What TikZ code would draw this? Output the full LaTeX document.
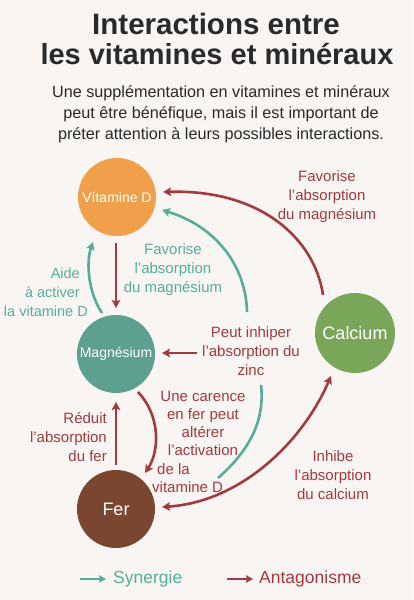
\documentclass[tikz,border=0pt]{standalone}
\usepackage{fontspec}
\setmainfont{Liberation Sans}
\usetikzlibrary{arrows.meta}
\definecolor{bg}{HTML}{F8F5F2}
\definecolor{ared}{HTML}{A23A3F}
\definecolor{ateal}{HTML}{56AE9A}
\definecolor{cvd}{HTML}{F0A04A}
\definecolor{cmg}{HTML}{5DA08F}
\definecolor{cca}{HTML}{7AA659}
\definecolor{cfe}{HTML}{7B4630}
\definecolor{ttl}{HTML}{2A2A2A}
\tikzset{
  circ/.style={circle, minimum size=78pt, inner sep=0pt, text=white},
  lbl/.style={font=\fontsize{15}{19}\selectfont, align=center, inner sep=0pt},
  ant/.style={draw=ared, line width=2.6pt, -{Stealth[length=8pt,width=8.5pt,inset=1.5pt]}},
  syn/.style={draw=ateal, line width=2.6pt, -{Stealth[length=8pt,width=8.5pt,inset=1.5pt]}},
}
\begin{document}
\begin{tikzpicture}[x=1pt,y=-1pt]
\fill[bg] (0,0) rectangle (413,600);
\useasboundingbox (0,0) rectangle (413,600);

% title
\node[anchor=base, text=ttl, font=\fontsize{29.5}{30}\selectfont\bfseries] (title1) at (216,34) {Interactions entre};
\node[anchor=base, text=ttl, font=\fontsize{29}{30}\selectfont\bfseries] (title2) at (217,64) {les vitamines et minéraux};
\node[anchor=north, inner sep=0pt, align=center, text=ttl, font=\fontsize{16.2}{21}\selectfont] (sub) at (221,85)
  {Une supplémentation en vitamines et minéraux\\peut être bénéfique, mais il est important de\\préter attention à leurs possibles interactions.};

% circles
\node[circ, fill=cvd, font=\fontsize{14}{14}\selectfont] (vd) at (117,197) {Vítamine D};
\node[circ, fill=cmg, font=\fontsize{14}{14}\selectfont] (mg) at (116,354) {Magnésium};
\node[circ, fill=cca, minimum size=80pt, font=\fontsize{18}{18}\selectfont] (ca) at (355,333) {Calcium};
\node[circ, fill=cfe, font=\fontsize{18}{18}\selectfont] (fe) at (116,509) {Fer};

% connector end points
\coordinate (p1a) at (323,295);
\coordinate (p1b) at (163,192);
\coordinate (p2a) at (247,312);
\coordinate (p2b) at (162,210);
\coordinate (p2c) at (218,478);
\coordinate (p2d) at (261,385);
\coordinate (p3a) at (116,243);
\coordinate (p3b) at (116,308);
\coordinate (p4a) at (102,313);
\coordinate (p4b) at (93,242);
\coordinate (p5a) at (197,353);
\coordinate (p5b) at (162,353);
\coordinate (p6a) at (138,392);
\coordinate (p6b) at (145,473);
\coordinate (p7a) at (162,507);
\coordinate (p7b) at (331,376);
\coordinate (p8a) at (116,465);
\coordinate (p8b) at (116,402);

% connectors
\draw[ant] (p1a) .. controls (315,240) and (262,189) .. (p1b);
\draw[syn] (p2a) .. controls (246,265) and (215,226) .. (p2b);
\draw[draw=ateal, line width=2.6pt] (p2c) .. controls (250,450) and (265,420) .. (p2d);
\draw[ant] (p3a) -- (p3b);
\draw[syn] (p4a) .. controls (88,292) and (86,262) .. (p4b);
\draw[ant] (p5a) -- (p5b);
\draw[ant] (p6a) .. controls (160,415) and (160,450) .. (p6b);
\draw[ant, {Stealth[length=8pt,width=8.5pt,inset=1.5pt]}-{Stealth[length=8pt,width=8.5pt,inset=1.5pt]}] (p7a) .. controls (240,502) and (302,443) .. (p7b);
\draw[ant] (p8a) -- (p8b);

% labels
\node[lbl, text=ared] (l1) at (327,197) {Favorise\\l’absorption\\du magnésium};
\node[lbl, text=ateal] (l2) at (173,270) {Favorise\\l’absorption\\du magnésium};
\node[lbl, text=ateal, align=right, anchor=east, font=\fontsize{14.5}{19}\selectfont] (l3) at (80,292) {Aide\\à activer\\la vitamine D\hspace*{-8pt}};
\node[lbl, text=ared, align=right, anchor=east] (l4) at (107,437) {Réduit\\l’absorption\\du fer};
\node[lbl, text=ared] (l5) at (251,351) {Peut inhiper\\l’absorption du\\zinc};
\node[lbl, text=ared, font=\fontsize{15}{18}\selectfont] (l6) at (203,423) {Une carence\\en fer peut\\altérer\\l’activation};
\node[lbl, text=ared, align=left, anchor=west, font=\fontsize{15}{18}\selectfont] (l7) at (152,478) {\hspace*{5pt}de la\\vitamine D};
\node[lbl, text=ared] (l8) at (333,475) {Inhibe\\l’absorption\\du calcium};

% legend
\coordinate (g1a) at (80,579);
\coordinate (g1b) at (106,579);
\coordinate (g2a) at (227,579);
\coordinate (g2b) at (253,579);
\draw[syn, line width=2.4pt, -{Stealth[length=7pt,width=7.5pt,inset=1pt]}] (g1a) -- (g1b);
\draw[ant, line width=2.4pt, -{Stealth[length=7pt,width=7.5pt,inset=1pt]}] (g2a) -- (g2b);
\node[anchor=west, inner sep=0pt, text=ateal, font=\fontsize{17.5}{18}\selectfont] (syn) at (113,579) {Synergie};
\node[anchor=west, inner sep=0pt, text=ared, font=\fontsize{17.5}{18}\selectfont] (antag) at (259,579) {Antagonisme};
\end{tikzpicture}
\end{document}
